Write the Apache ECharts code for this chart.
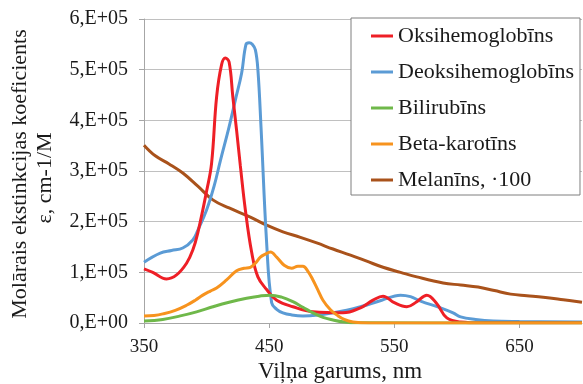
<!DOCTYPE html>
<html>
<head>
<meta charset="utf-8">
<script src="https://cdn.jsdelivr.net/npm/echarts@6/dist/echarts.min.js"></script>
<style>
  html, body { margin: 0; padding: 0; background: #fff; }
  #chart { width: 583px; height: 384px; }
</style>
</head>
<body>
<div id="chart"></div>
<script>
// Absorption spectra: wavelength (nm) and molar extinction coefficient (cm-1/M)
const seriesNames = ['Oksihemoglobīns', 'Deoksihemoglobīns', 'Bilirubīns', 'Beta-karotīns', 'Melanīns, ·100'];
const xTicks = [350, 450, 550, 650];

const oxyWl  = [350, 357, 368, 376, 384, 389, 393, 400, 404, 408, 412, 415, 418, 421, 424, 427, 431, 436, 441, 448, 456, 469, 485, 509, 523, 533, 541, 550, 560, 568, 576, 584, 592, 603, 620, 700];
const oxyVal = [1.07e5, 1.0e5, 0.87e5, 0.95e5, 1.18e5, 1.44e5, 1.78e5, 2.6e5, 3.15e5, 4.46e5, 5.1e5, 5.23e5, 5.15e5, 4.46e5, 3.8e5, 3.1e5, 2.23e5, 1.4e5, 0.91e5, 0.66e5, 0.45e5, 0.32e5, 0.22e5, 0.2e5, 0.3e5, 0.45e5, 0.53e5, 0.4e5, 0.32e5, 0.42e5, 0.55e5, 0.38e5, 0.1e5, 0.02e5, 0.003e5, 0.003e5];

const deoxyWl  = [350, 363, 372, 381, 389, 393, 400, 406, 411, 418, 423, 428, 431.5, 434, 436.5, 439, 441, 443.5, 448, 452, 456, 461, 468, 477, 490, 501, 512, 523, 540, 555, 563, 571, 587, 597, 603, 615, 629, 650, 700];
const deoxyVal = [1.2e5, 1.38e5, 1.43e5, 1.48e5, 1.64e5, 1.83e5, 2.23e5, 2.7e5, 3.2e5, 3.87e5, 4.4e5, 4.93e5, 5.5e5, 5.53e5, 5.5e5, 5.39e5, 5.0e5, 3.87e5, 1.58e5, 0.4e5, 0.27e5, 0.2e5, 0.16e5, 0.14e5, 0.16e5, 0.2e5, 0.25e5, 0.32e5, 0.45e5, 0.55e5, 0.52e5, 0.43e5, 0.3e5, 0.2e5, 0.12e5, 0.07e5, 0.04e5, 0.03e5, 0.02e5];

const biliWl  = [350, 365, 379, 392, 405, 418, 432, 442, 451, 460, 469, 477, 485, 493, 501, 510, 520, 700];
const biliVal = [0.04e5, 0.07e5, 0.14e5, 0.22e5, 0.32e5, 0.41e5, 0.49e5, 0.53e5, 0.55e5, 0.51e5, 0.42e5, 0.31e5, 0.2e5, 0.11e5, 0.06e5, 0.02e5, 0.003e5, 0];

const betaWl  = [350, 358, 365, 375, 384, 391, 397, 403, 408, 416, 424, 430, 435, 439, 443, 447, 451, 456, 462, 468, 473, 477, 481, 485, 489, 493, 499, 504, 510, 517, 530, 700];
const betaVal = [0.14e5, 0.15e5, 0.18e5, 0.25e5, 0.35e5, 0.45e5, 0.55e5, 0.63e5, 0.69e5, 0.85e5, 1.03e5, 1.08e5, 1.1e5, 1.18e5, 1.3e5, 1.36e5, 1.4e5, 1.3e5, 1.14e5, 1.08e5, 1.12e5, 1.12e5, 1.02e5, 0.85e5, 0.65e5, 0.45e5, 0.26e5, 0.16e5, 0.07e5, 0.02e5, 0, 0];

const melWl  = [350, 359, 370, 381, 393, 405, 418, 435, 448, 461, 475, 488, 501, 515, 528, 541, 555, 568, 589, 603, 617, 630, 643, 656, 669, 685, 700];
const melVal = [3.51e5, 3.3e5, 3.14e5, 2.96e5, 2.7e5, 2.43e5, 2.27e5, 2.09e5, 1.93e5, 1.8e5, 1.69e5, 1.58e5, 1.46e5, 1.34e5, 1.22e5, 1.1e5, 1.0e5, 0.91e5, 0.79e5, 0.75e5, 0.71e5, 0.64e5, 0.57e5, 0.54e5, 0.51e5, 0.46e5, 0.41e5];

const colors = ['#ee1f26', '#5b9bd5', '#6fb84a', '#f7931e', '#a9521b'];
const serif = '"Liberation Serif", "DejaVu Serif", serif';

function pairs(xs, ys) { return xs.map((x, i) => [x, ys[i]]); }
const dataSets = [
  pairs(oxyWl, oxyVal),
  pairs(deoxyWl, deoxyVal),
  pairs(biliWl, biliVal),
  pairs(betaWl, betaVal),
  pairs(melWl, melVal)
];

const chart = echarts.init(document.getElementById('chart'), null, { renderer: 'canvas' });

chart.setOption({
  animation: false,
  backgroundColor: '#fff',
  color: colors,
  grid: { left: 144, right: 1, top: 19, bottom: 61, containLabel: false },
  xAxis: {
    type: 'value',
    min: 350,
    max: 700,
    axisLine: { show: true, lineStyle: { color: '#a6a6a6', width: 1 } },
    axisTick: { show: true, length: 5, lineStyle: { color: '#a6a6a6' }, customValues: xTicks },
    axisLabel: {
      customValues: xTicks,
      color: '#1a1a1a', fontFamily: serif, fontSize: 19, margin: 15
    },
    splitLine: { show: false }
  },
  yAxis: {
    type: 'value',
    min: 0,
    max: 6e5,
    interval: 1e5,
    axisLine: { show: true, lineStyle: { color: '#a6a6a6', width: 1 } },
    axisTick: { show: true, length: 5, lineStyle: { color: '#a6a6a6' } },
    axisLabel: {
      color: '#1a1a1a', fontFamily: serif, fontSize: 20, margin: 16,
      formatter: v => v === 0 ? '0,E+00' : (v / 1e5) + ',E+05'
    },
    splitLine: { show: true, lineStyle: { color: '#c0c0c0', width: 1 } }
  },
  legend: {
    orient: 'vertical',
    left: 351,
    top: 18,
    backgroundColor: '#fff',
    borderColor: '#7f7f7f',
    borderWidth: 1,
    padding: [7, 6, 4, 20],
    itemGap: 14,
    itemWidth: 22,
    itemHeight: 3,
    icon: 'rect',
    textStyle: { fontFamily: serif, fontSize: 22, color: '#1a1a1a' },
    data: seriesNames
  },
  series: seriesNames.map((name, i) => ({
    name: name,
    type: 'line',
    data: dataSets[i],
    smooth: 0.4,
    showSymbol: false,
    lineStyle: { width: 3, color: colors[i] },
    itemStyle: { color: colors[i] },
    z: [3, 2, 4, 5, 1][i]
  })),
  graphic: [
    {
      type: 'text',
      x: 340, y: 372,
      style: { text: 'Viļņa garums, nm', font: '23px ' + serif, fill: '#1a1a1a', textAlign: 'center', textVerticalAlign: 'middle' }
    },
    {
      type: 'text',
      x: 20, y: 174, rotation: Math.PI / 2,
      style: { text: 'Molārais ekstinkcijas koeficients', font: '22px ' + serif, fill: '#1a1a1a', textAlign: 'center', textVerticalAlign: 'middle' }
    },
    {
      type: 'text',
      x: 45, y: 178, rotation: Math.PI / 2,
      style: { text: 'ε, cm-1/M', font: '22px ' + serif, fill: '#1a1a1a', textAlign: 'center', textVerticalAlign: 'middle' }
    }
  ]
});
</script>
</body>
</html>
